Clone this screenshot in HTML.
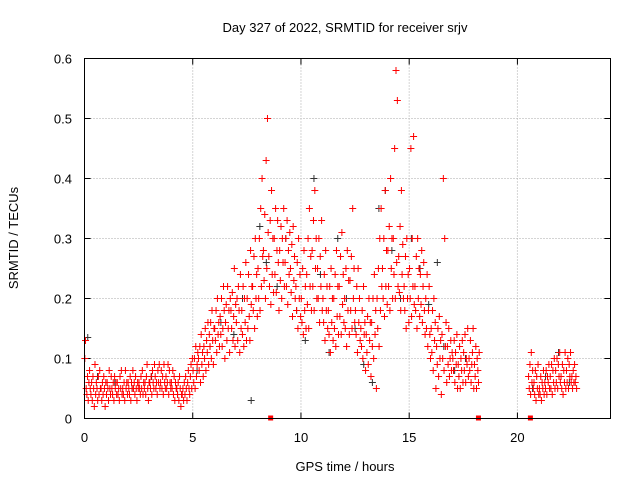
<!DOCTYPE html>
<html><head><meta charset="utf-8">
<style>
html,body{margin:0;padding:0;background:#fff;}
svg{display:block;font-family:"Liberation Sans",Arial,sans-serif;}
</style></head>
<body>
<svg id="chart" width="640" height="480" viewBox="0 0 640 480">
<rect width="640" height="480" fill="#fff"/>
<g id="grid"></g>
<g id="axes"></g>
<g id="gray-series"></g>
<g id="red-series"></g>
<rect x="84.5" y="58.5" width="526" height="360" fill="none" stroke="#000" stroke-width="1"/>
<text x="345" y="32" font-size="13" text-anchor="middle">Day 327 of 2022, SRMTID for receiver srjv</text>
<text x="345" y="471" font-size="13" text-anchor="middle">GPS time / hours</text>
<text transform="translate(18,238) rotate(-90)" font-size="13" text-anchor="middle">SRMTID / TECUs</text>
</svg>
<script>
const xTicks=[0,5,10,15,20];
const yTicks=[0,0.1,0.2,0.3,0.4,0.5,0.6];
const yTickLabels=["0","0.1","0.2","0.3","0.4","0.5","0.6"];
const binStarts=[0,0.25,0.5,0.75,1,1.25,1.5,1.75,2,2.25,2.5,2.75,3,3.25,3.5,3.75,4,4.25,4.5,4.75,5,5.25,5.5,5.75,6,6.25,6.5,6.75,7,7.25,7.5,7.75,8,8.25,8.5,8.75,9,9.25,9.5,9.75,10,10.25,10.5,10.75,11,11.25,11.5,11.75,12,12.25,12.5,12.75,13,13.25,13.5,13.75,14,14.25,14.5,14.75,15,15.25,15.5,15.75,16,16.25,16.5,16.75,17,17.25,17.5,17.75,18,20.5,20.75,21,21.25,21.5,21.75,22,22.25,22.5];
const redBinValues=["10 13 05 04 07 03 06 08","05 04 06 03 07 05 02 09","04 06 05 03 07 04 08 05","05 03 06 04 07 05 02 06","04 06 05 03 08 05 04 07","05 04 06 03 07 05 06 04","06 04 05 03 07 05 08 04","05 04 06 03 08 05 06 04","06 05 04 07 03 06 05 08","05 06 04 07 05 03 06 05","06 05 04 07 05 08 04 06","05 06 04 07 09 05 03 06","06 05 07 04 08 06 05 09","07 05 06 04 08 06 09 05","06 08 05 07 04 09 06 05","07 05 06 09 04 08 06 05","06 05 08 04 07 03 06 05","05 04 06 03 07 05 02 04","04 05 03 06 04 07 05 03","06 08 05 04 07 09 05 10","08 06 10 05 12 07 09 11","10 08 12 06 14 09 11 07","12 10 15 08 13 11 16 09","14 12 16 10 18 13 09 15","15 13 18 11 20 14 16 12","17 14 20 12 15 22 18 10","16 19 13 22 15 18 11 20","18 15 21 13 17 25 12 19","16 20 13 22 18 11 24 15","18 14 22 12 20 16 26 13","20 15 24 17 13 28 19 22","22 18 27 15 30 20 24 17","25 20 30 18 35 22 40 27","28 23 34 20 43 25 50 31","27 22 33 19 38 24 30 21","30 24 35 21 28 33 26 18","28 23 32 20 30 26 35 22","26 30 22 33 19 28 24 31","25 21 29 17 32 23 27 20","22 18 26 15 30 20 24 17","20 16 25 14 28 18 22 15","24 19 30 15 35 22 27 18","28 22 33 18 38 25 30 20","25 20 30 16 27 22 33 18","20 16 24 13 28 18 22 15","18 14 22 11 25 16 20 13","20 15 24 12 28 17 22 14","22 17 27 14 31 19 24 16","20 15 25 12 28 18 23 14","23 18 27 15 35 20 25 16","18 14 22 11 25 16 20 13","15 12 18 10 22 14 16 08","14 11 17 09 20 13 16 07","16 12 20 10 24 14 18 05","20 15 25 12 30 18 35 22","25 20 30 17 38 22 28 19","28 22 32 18 40 25 30 20","30 24 45 20 58 26 53 22","27 21 32 18 38 24 29 20","22 18 27 15 30 20 24 16","25 20 45 17 30 22 47 19","22 18 27 15 30 20 25 17","24 19 28 16 22 26 18 14","20 15 24 12 18 22 14 10","15 11 18 08 20 13 16 05","12 09 15 07 17 10 13 04","14 10 40 08 30 12 16 06","12 09 15 07 10 13 08 11","10 08 13 06 11 09 14 05","09 07 12 05 10 08 13 06","11 08 14 06 10 09 15 07","10 08 13 06 09 11 15 05","09 07 12 05 10 08 06 11","07 05 09 04 11 06 08 05","06 04 08 03 07 05 09 04","05 04 07 03 06 05 08 04","06 05 08 04 07 06 09 05","07 05 09 04 08 06 10 05","08 06 10 05 09 07 11 06","07 05 09 04 08 06 11 05","08 06 10 05 09 07 11 06","07 05 08 06 09 06 07 05"];
const grayTimes=[0.15,0.6,1.4,2.2,3.1,4.3,5.2,5.8,6.3,6.9,7.3,7.7,8.1,8.4,8.9,9.3,9.8,10.2,10.6,10.9,11.3,11.7,12.1,12.5,12.9,13.3,13.6,13.9,14.2,14.6,15.1,15.5,15.9,16.3,16.6,17.1,17.6,20.7,21.3,21.9,22.4];
const grayValues=[0.135,0.07,0.06,0.05,0.07,0.04,0.08,0.12,0.16,0.14,0.2,0.03,0.32,0.26,0.22,0.3,0.18,0.13,0.4,0.24,0.11,0.3,0.2,0.15,0.09,0.06,0.35,0.38,0.28,0.2,0.3,0.25,0.19,0.26,0.12,0.08,0.1,0.05,0.07,0.11,0.06];
const zeroTimes=[8.6,18.2,20.6];

const NS="http://www.w3.org/2000/svg";
const X0=84.5,X1=610.5,XMAX=24.3,Y0=418.5,Y1=58.5,YMAX=0.6;
function xs(t){return X0+(X1-X0)*t/XMAX;}
function ys(v){return Y0-(Y0-Y1)*v/YMAX;}
const grid=document.getElementById('grid'),axes=document.getElementById('axes');
xTicks.forEach(t=>{
  const x=xs(t);
  if(t>0){const g=document.createElementNS(NS,'line');
  g.setAttribute('x1',x);g.setAttribute('x2',x);g.setAttribute('y1',Y1);g.setAttribute('y2',Y0);
  g.setAttribute('stroke','#aaa');g.setAttribute('stroke-dasharray','1,2');
  
  
  grid.appendChild(g);}
  const tk=document.createElementNS(NS,'path');
  tk.setAttribute('d',`M${x},${Y0}v-6M${x},${Y1}v6`);tk.setAttribute('stroke','#000');
  
  
  axes.appendChild(tk);
  const tx=document.createElementNS(NS,'text');
  tx.setAttribute('x',x);tx.setAttribute('y',442);tx.setAttribute('font-size','13');tx.setAttribute('text-anchor','middle');
  tx.textContent=t;
  
  
  axes.appendChild(tx);
});
yTicks.forEach((v,i)=>{
  const y=ys(v);
  if(v>0&&v<YMAX){const g=document.createElementNS(NS,'line');
  g.setAttribute('x1',X0);g.setAttribute('x2',X1);g.setAttribute('y1',y);g.setAttribute('y2',y);
  g.setAttribute('stroke','#aaa');g.setAttribute('stroke-dasharray','1,2');
  
  
  grid.appendChild(g);}
  const tk=document.createElementNS(NS,'path');
  tk.setAttribute('d',`M${X0},${y}h6M${X1},${y}h-6`);tk.setAttribute('stroke','#000');
  
  
  axes.appendChild(tk);
  const tx=document.createElementNS(NS,'text');
  tx.setAttribute('x',72);tx.setAttribute('y',y+5);tx.setAttribute('font-size','13');tx.setAttribute('text-anchor','end');
  tx.textContent=yTickLabels[i];
  
  
  axes.appendChild(tx);
});
function plus(parent,t,v,color){
  const x=xs(t),y=ys(v);
  const p=document.createElementNS(NS,'path');
  p.setAttribute('d',`M${x-3.5},${y}h7M${x},${y-3.5}v7`);
  p.setAttribute('stroke',color);p.setAttribute('stroke-width','1');
  
  
  parent.appendChild(p);
}
const gs=document.getElementById('gray-series'),rs=document.getElementById('red-series');
grayTimes.forEach((t,i)=>plus(gs,t,grayValues[i],'#333'));
binStarts.forEach((b,i)=>{
  const vals=redBinValues[i].split(' ').map(s=>parseInt(s,10)/100);
  vals.forEach((v,j)=>plus(rs,b+(j+0.5)*0.25/vals.length,v,'#f00'));
});
zeroTimes.forEach(t=>{
  const r=document.createElementNS(NS,'rect');
  r.setAttribute('x',xs(t)-2.5);r.setAttribute('y',Y0-3);r.setAttribute('width',5);r.setAttribute('height',5);
  r.setAttribute('fill','#f00');
  
  
  rs.appendChild(r);
});
</script>
</body></html>
